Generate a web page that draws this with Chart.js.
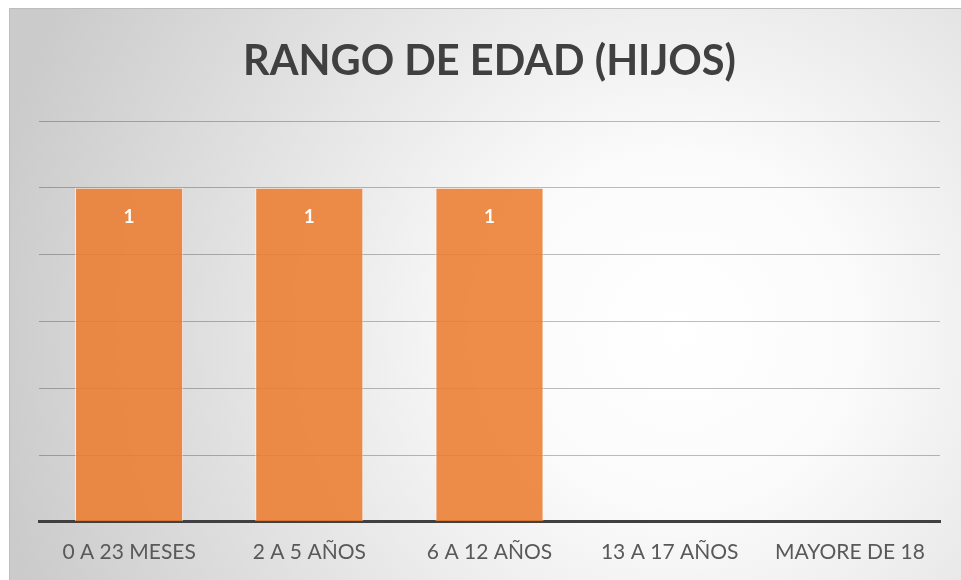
<!DOCTYPE html>
<html>
<head>
<meta charset="utf-8">
<script src="https://cdn.jsdelivr.net/npm/chart.js@4"></script>
<style>
  html, body { margin: 0; padding: 0; background: #fff; }
  #wrap { width: 961px; height: 580px; }
</style>
</head>
<body>
<div id="wrap"><canvas id="myChart" width="961" height="580"></canvas></div>
<script>
const categories = ['0 A 23 MESES', '2 A 5 AÑOS', '6 A 12 AÑOS', '13 A 17 AÑOS', 'MAYORE DE 18'];
const hijos = [1, 1, 1, 0, 0];
const chartTitle = 'RANGO DE EDAD (HIJOS)';

// fondo con degradado radial y marco gris
const fondo = {
    id: 'fondo',
    beforeDraw(chart) {
        const c = chart.ctx;
        c.save();
        c.fillStyle = '#ffffff';
        c.fillRect(0, 0, chart.width, chart.height);
        const g = c.createRadialGradient(680, 330, 0, 680, 330, 700);
        g.addColorStop(0, '#ffffff');
        g.addColorStop(0.25, '#fbfbfb');
        g.addColorStop(1, '#cbcbcb');
        c.fillStyle = g;
        c.fillRect(9, 8, chart.width - 9, chart.height - 8);
        c.strokeStyle = '#bdbdbd';
        c.lineWidth = 1;
        c.beginPath();
        c.moveTo(9.5, chart.height);
        c.lineTo(9.5, 8.5);
        c.lineTo(chart.width, 8.5);
        c.stroke();
        c.restore();
    }
};

// etiquetas de valor dentro de las barras
const etiquetas = {
    id: 'etiquetas',
    afterDatasetsDraw(chart) {
        const c = chart.ctx;
        const meta = chart.getDatasetMeta(0);
        c.save();
        c.fillStyle = '#ffffff';
        c.font = 'bold 19px Lato';
        c.textAlign = 'center';
        c.textBaseline = 'middle';
        meta.data.forEach(function (bar, i) {
            const v = hijos[i];
            if (v > 0) c.fillText(String(v), bar.x, bar.y + 29);
        });
        c.restore();
    }
};

document.addEventListener('DOMContentLoaded', function () {
    const ctx = document.getElementById('myChart').getContext('2d');
    new Chart(ctx, {
        type: 'bar',
        data: {
            labels: categories,
            datasets: [{
                label: 'Hijos',
                data: hijos,
                backgroundColor: 'rgba(236,125,49,0.88)',
                borderColor: 'rgba(255,255,255,0.6)',
                borderWidth: 1,
                barPercentage: 0.6,
                categoryPercentage: 1
            }]
        },
        options: {
            responsive: false,
            animation: false,
            layout: { padding: { left: 39, right: 21, top: 0, bottom: -3 } },
            plugins: {
                legend: { display: false },
                tooltip: { enabled: false },
                title: {
                    display: true,
                    text: chartTitle,
                    color: '#404040',
                    font: { family: 'Lato', size: 41.5, weight: 'bold', lineHeight: 1.2 },
                    padding: { top: 37, bottom: 34.2 }
                }
            },
            scales: {
                x: {
                    grid: { display: false, drawTicks: false },
                    border: { color: '#404040', width: 3 },
                    ticks: {
                        color: '#595959',
                        font: { family: 'Lato', size: 21 },
                        padding: 18,
                        maxRotation: 0
                    }
                },
                y: {
                    min: 0,
                    max: 1.2,
                    ticks: { display: false, stepSize: 0.2 },
                    border: { display: false },
                    grid: { color: 'rgba(0,0,0,0.26)', drawTicks: false }
                }
            }
        },
        plugins: [fondo, etiquetas]
    });
});
</script>
</body>
</html>
